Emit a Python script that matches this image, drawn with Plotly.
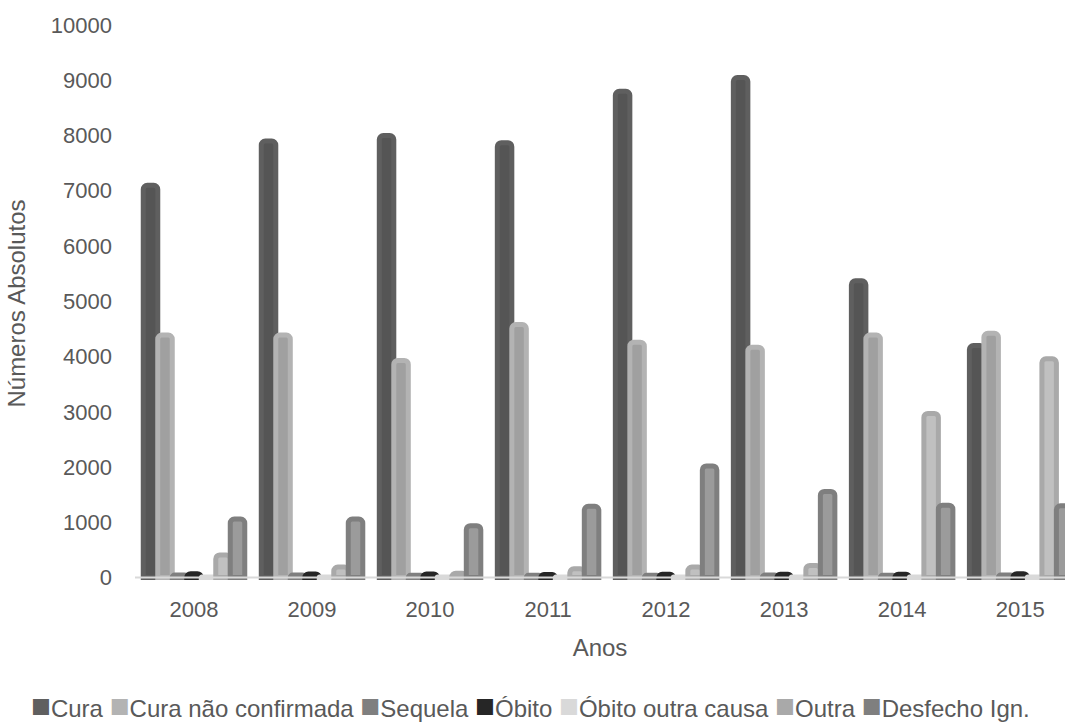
import plotly.graph_objects as go

# Desfecho dos casos por ano (números absolutos)
anos = ["2008", "2009", "2010", "2011", "2012", "2013", "2014", "2015"]
cura = [7100, 7900, 8000, 7870, 8800, 9050, 5370, 4200]
cura_nao_confirmada = [4390, 4390, 3930, 4580, 4260, 4170, 4390, 4420]
sequela = [45, 45, 40, 40, 40, 45, 40, 45]
obito = [70, 65, 65, 55, 60, 60, 60, 70]
obito_outra_causa = [10, 10, 10, 10, 10, 10, 10, 10]
outra = [410, 190, 80, 160, 190, 220, 2970, 3960]
desfecho_ign = [1060, 1060, 940, 1290, 2020, 1560, 1310, 1300]

y_ticks = list(range(0, 10001, 1000))
y_tick_text = [str(v) for v in y_ticks]

series = [
    ("Cura", cura, "#555555", "#5f5f5f"),
    ("Cura não confirmada", cura_nao_confirmada, "#a0a0a0", "#b3b3b3"),
    ("Sequela", sequela, "#8c8c8c", "#7f7f7f"),
    ("Óbito", obito, "#1a1a1a", "#262626"),
    ("Óbito outra causa", obito_outra_causa, "#c8c8c8", "#d9d9d9"),
    ("Outra", outra, "#c0c0c0", "#a9a9a9"),
    ("Desfecho Ign.", desfecho_ign, "#9b9b9b", "#7f7f7f"),
]

FONT = "Liberation Sans, Arial, sans-serif"
TXT = "#595959"

W, H = 1065, 727
M = dict(l=135, r=0, t=25, b=145)
plot_w = W - M["l"] - M["r"]
plot_h = H - M["t"] - M["b"]

fig = go.Figure()
for nome, vals, fill, borda in series:
    fig.add_trace(go.Bar(
        name=nome, x=anos, y=vals,
        marker=dict(color=fill, line=dict(color=borda, width=5), cornerradius=4),
        showlegend=False,
    ))

# legenda em linha única, abaixo do gráfico
partes = []
for nome, _, fill, borda in series:
    partes.append(
        f"<span style='color:{borda};font-size:33px'>■</span>{nome}"
    )
fig.add_annotation(
    text=" ".join(partes), xref="paper", yref="paper",
    x=(530 - M["l"]) / plot_w, y=(H - M["b"] - 705) / plot_h,
    xanchor="center", yanchor="middle",
    showarrow=False, font=dict(family=FONT, size=24, color=TXT),
)

# linha de base
fig.add_shape(type="line", xref="paper", yref="y", x0=0, x1=1, y0=0, y1=0,
              line=dict(color="#d9d9d9", width=2), layer="above")

fig.update_layout(
    width=W, height=H,
    margin=M,
    paper_bgcolor="white", plot_bgcolor="white",
    barmode="group", bargap=0.14, bargroupgap=0,
    font=dict(family=FONT, size=22, color=TXT),
    xaxis=dict(
        type="category", range=[-0.5, 7.38],
        showgrid=False, showline=False, zeroline=False, ticks="",
        tickfont=dict(size=22, color=TXT), ticklabelstandoff=12,
        title=dict(text="Anos", font=dict(size=24, color=TXT), standoff=18),
    ),
    yaxis=dict(
        range=[-80, 10000], tickvals=y_ticks, ticktext=y_tick_text,
        showgrid=False, showline=False, zeroline=False, ticks="",
        tickfont=dict(size=22, color=TXT), ticklabelstandoff=22,
        title=dict(text="Números Absolutos", font=dict(size=24, color=TXT), standoff=18),
    ),
)

fig.write_html("out.html")
